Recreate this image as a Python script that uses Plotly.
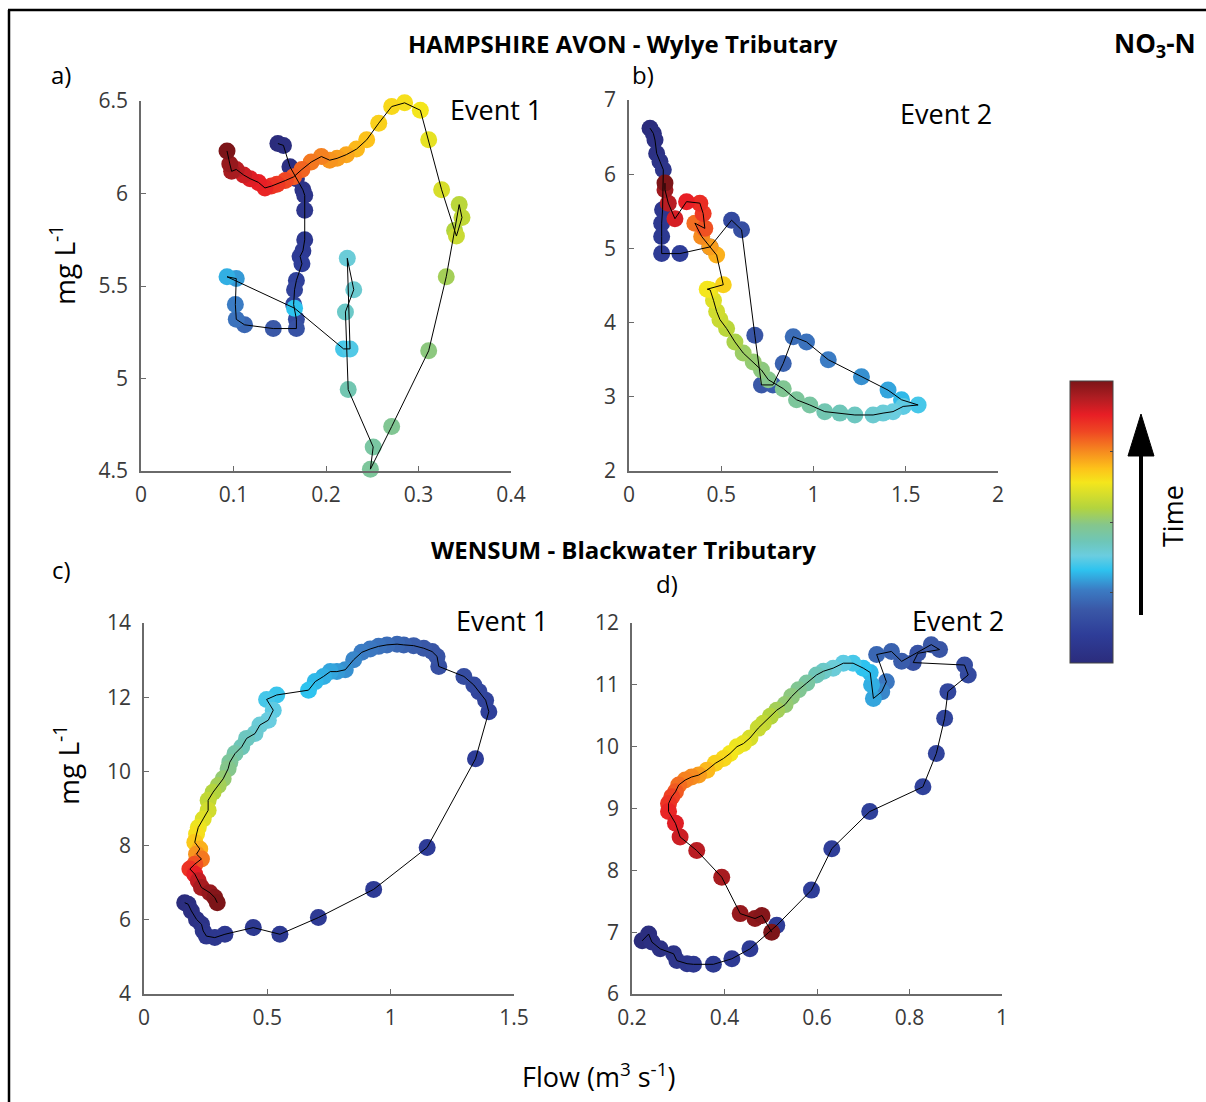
import plotly.graph_objects as go

W, H = 1206, 1102

# ---------------- DATA ----------------
# Panel a: Hampshire Avon (Wylye) Event 1
flow_a = [0.148, 0.154, 0.161, 0.168, 0.175, 0.177, 0.177, 0.177, 0.175, 0.172, 0.174, 0.168, 0.166, 0.165,
          0.168, 0.168, 0.143, 0.112, 0.103, 0.102, 0.103, 0.093, 0.166, 0.219, 0.226, 0.223, 0.230, 0.221,
          0.224, 0.251, 0.248, 0.271, 0.311, 0.330, 0.339, 0.344, 0.347, 0.341, 0.325, 0.311, 0.302, 0.285,
          0.271, 0.257, 0.244, 0.233, 0.222, 0.212, 0.204, 0.195, 0.184, 0.174, 0.165, 0.156, 0.147, 0.141,
          0.134, 0.127, 0.118, 0.111, 0.103, 0.098, 0.096, 0.093]
no3_a = [6.27, 6.26, 6.145, 6.08, 6.02, 5.99, 5.91, 5.75, 5.69, 5.66, 5.62, 5.53, 5.48, 5.40,
         5.32, 5.27, 5.27, 5.29, 5.32, 5.40, 5.54, 5.55, 5.38, 5.16, 5.16, 5.65, 5.48, 5.36,
         4.94, 4.63, 4.51, 4.74, 5.15, 5.55, 5.80, 5.94, 5.87, 5.77, 6.02, 6.29, 6.45, 6.49,
         6.47, 6.38, 6.29, 6.24, 6.21, 6.19, 6.18, 6.20, 6.17, 6.13, 6.09, 6.07, 6.05, 6.04,
         6.03, 6.06, 6.08, 6.10, 6.13, 6.12, 6.16, 6.23]
time_a = [0.00, 0.01, 0.02, 0.03, 0.04, 0.05, 0.06, 0.07, 0.08, 0.09, 0.10, 0.11, 0.12, 0.13,
          0.15, 0.17, 0.19, 0.22, 0.24, 0.26, 0.29, 0.31, 0.33, 0.35, 0.36, 0.39, 0.40, 0.41,
          0.44, 0.46, 0.47, 0.48, 0.50, 0.53, 0.55, 0.56, 0.57, 0.58, 0.60, 0.62, 0.64, 0.65,
          0.66, 0.67, 0.69, 0.70, 0.72, 0.73, 0.74, 0.76, 0.77, 0.79, 0.80, 0.82, 0.84, 0.85,
          0.87, 0.88, 0.89, 0.91, 0.93, 0.95, 0.97, 1.00]

# Panel b: Hampshire Avon (Wylye) Event 2
flow_b = [0.114, 0.132, 0.141, 0.150, 0.168, 0.186, 0.182, 0.177, 0.177, 0.177, 0.276, 0.439, 0.556, 0.610,
          0.682, 0.718, 0.780, 0.836, 0.890, 0.962, 1.080, 1.260, 1.404, 1.477, 1.567, 1.486, 1.431, 1.377,
          1.323, 1.224, 1.143, 1.061, 0.980, 0.908, 0.836, 0.755, 0.718, 0.673, 0.619, 0.574, 0.529, 0.493,
          0.475, 0.458, 0.440, 0.424, 0.511, 0.475, 0.439, 0.394, 0.357, 0.411, 0.402, 0.384, 0.312, 0.249,
          0.213, 0.195, 0.195]
no3_b = [6.62, 6.55, 6.46, 6.28, 6.17, 6.06, 5.52, 5.34, 5.16, 4.93, 4.93, 5.02, 5.38, 5.25,
         3.83, 3.16, 3.16, 3.45, 3.81, 3.74, 3.50, 3.27, 3.09, 2.96, 2.89, 2.87, 2.80, 2.78,
         2.755, 2.755, 2.78, 2.80, 2.89, 2.96, 3.11, 3.23, 3.36, 3.47, 3.59, 3.74, 3.92, 4.04,
         4.15, 4.30, 4.44, 4.45, 4.51, 4.91, 5.02, 5.16, 5.34, 5.27, 5.47, 5.61, 5.63, 5.40,
         5.61, 5.79, 5.88]
time_b = [0.00, 0.01, 0.02, 0.03, 0.04, 0.05, 0.06, 0.07, 0.08, 0.09, 0.10, 0.12, 0.14, 0.16,
          0.18, 0.19, 0.20, 0.21, 0.23, 0.24, 0.26, 0.28, 0.30, 0.32, 0.35, 0.37, 0.38, 0.39,
          0.40, 0.42, 0.43, 0.44, 0.46, 0.47, 0.48, 0.49, 0.50, 0.51, 0.52, 0.54, 0.56, 0.58,
          0.59, 0.61, 0.63, 0.64, 0.67, 0.71, 0.73, 0.75, 0.78, 0.81, 0.84, 0.86, 0.88, 0.90,
          0.93, 0.96, 1.00]

# Panel c: Wensum (Blackwater) Event 1
flow_c = [0.165, 0.179, 0.192, 0.213, 0.233, 0.240, 0.253, 0.287, 0.328, 0.443, 0.551, 0.707, 0.931, 1.148,
          1.344, 1.398, 1.385, 1.358, 1.337, 1.297, 1.195, 1.188, 1.168, 1.134, 1.093, 1.053, 1.026, 0.985,
          0.951, 0.917, 0.883, 0.850, 0.816, 0.782, 0.755, 0.728, 0.694, 0.667, 0.538, 0.497, 0.524, 0.504,
          0.470, 0.450, 0.416, 0.396, 0.369, 0.348, 0.341, 0.321, 0.301, 0.280, 0.260, 0.260, 0.240, 0.220,
          0.213, 0.206, 0.226, 0.213, 0.233, 0.206, 0.186, 0.206, 0.220, 0.233, 0.267, 0.287, 0.297]
no3_c = [6.46, 6.42, 6.24, 6.01, 5.88, 5.70, 5.56, 5.52, 5.61, 5.79, 5.61, 6.06, 6.82, 7.95,
         10.34, 11.61, 11.92, 12.15, 12.33, 12.56, 12.83, 13.10, 13.23, 13.32, 13.39, 13.41, 13.43, 13.41,
         13.37, 13.30, 13.21, 13.01, 12.74, 12.69, 12.69, 12.56, 12.42, 12.19, 12.06, 11.94, 11.65, 11.38,
         11.25, 11.02, 10.89, 10.66, 10.48, 10.25, 10.07, 9.80, 9.62, 9.44, 9.22, 8.95, 8.72, 8.49,
         8.31, 8.09, 7.91, 7.77, 7.64, 7.50, 7.37, 7.23, 7.05, 6.87, 6.73, 6.60, 6.46]
time_c = [0.00, 0.01, 0.02, 0.03, 0.04, 0.05, 0.06, 0.065, 0.07, 0.075, 0.08, 0.085, 0.09, 0.095,
          0.10, 0.11, 0.12, 0.13, 0.14, 0.15, 0.16, 0.17, 0.18, 0.19, 0.20, 0.21, 0.22, 0.23,
          0.24, 0.25, 0.26, 0.27, 0.28, 0.29, 0.30, 0.31, 0.32, 0.33, 0.34, 0.35, 0.37, 0.38,
          0.39, 0.40, 0.42, 0.43, 0.45, 0.47, 0.49, 0.51, 0.53, 0.55, 0.57, 0.59, 0.61, 0.63,
          0.65, 0.68, 0.71, 0.74, 0.77, 0.81, 0.85, 0.88, 0.92, 0.95, 0.97, 0.99, 1.00]

# Panel d: Wensum (Blackwater) Event 2
flow_d = [0.222, 0.236, 0.243, 0.261, 0.290, 0.297, 0.319, 0.333, 0.376, 0.416, 0.455, 0.513, 0.588, 0.632,
          0.714, 0.829, 0.858, 0.876, 0.883, 0.927, 0.919, 0.808, 0.818, 0.865, 0.847, 0.783, 0.761, 0.729,
          0.750, 0.740, 0.722, 0.718, 0.715, 0.700, 0.678, 0.657, 0.635, 0.614, 0.599, 0.578, 0.560, 0.545,
          0.531, 0.513, 0.499, 0.484, 0.473, 0.455, 0.441, 0.427, 0.412, 0.398, 0.380, 0.362, 0.344, 0.329,
          0.315, 0.301, 0.294, 0.286, 0.279, 0.279, 0.294, 0.304, 0.340, 0.394, 0.434, 0.466, 0.481, 0.502]
no3_d = [6.86, 6.97, 6.84, 6.73, 6.65, 6.54, 6.49, 6.48, 6.48, 6.57, 6.73, 7.11, 7.68, 8.35,
         8.95, 9.35, 9.89, 10.46, 10.89, 11.16, 11.32, 11.36, 11.51, 11.57, 11.65, 11.38, 11.54, 11.49,
         11.05, 10.89, 10.78, 11.00, 11.20, 11.27, 11.35, 11.35, 11.27, 11.22, 11.16, 11.03, 10.92, 10.81,
         10.68, 10.59, 10.49, 10.38, 10.30, 10.14, 10.05, 10.00, 9.89, 9.81, 9.73, 9.62, 9.54, 9.51,
         9.46, 9.38, 9.27, 9.19, 9.08, 8.95, 8.76, 8.54, 8.32, 7.89, 7.30, 7.22, 7.27, 7.00]
time_d = [0.00, 0.01, 0.02, 0.03, 0.04, 0.05, 0.06, 0.07, 0.08, 0.085, 0.09, 0.095, 0.10, 0.105,
          0.11, 0.115, 0.12, 0.125, 0.13, 0.14, 0.15, 0.16, 0.17, 0.18, 0.19, 0.20, 0.21, 0.22,
          0.25, 0.27, 0.30, 0.31, 0.32, 0.33, 0.35, 0.37, 0.39, 0.41, 0.43, 0.46, 0.48, 0.50,
          0.51, 0.53, 0.55, 0.57, 0.58, 0.60, 0.62, 0.63, 0.64, 0.66, 0.67, 0.70, 0.73, 0.75,
          0.76, 0.78, 0.80, 0.83, 0.85, 0.87, 0.89, 0.91, 0.93, 0.95, 0.97, 0.98, 0.99, 1.00]

ticks_x = {"a": [0, 0.1, 0.2, 0.3, 0.4], "b": [0, 0.5, 1, 1.5, 2], "c": [0, 0.5, 1, 1.5], "d": [0.2, 0.4, 0.6, 0.8, 1]}
ticks_y = {"a": [4.5, 5, 5.5, 6, 6.5], "b": [2, 3, 4, 5, 6, 7], "c": [4, 6, 8, 10, 12, 14], "d": [6, 7, 8, 9, 10, 11, 12]}
tick_text_x = {"a": ["0", "0.1", "0.2", "0.3", "0.4"], "b": ["0", "0.5", "1", "1.5", "2"],
               "c": ["0", "0.5", "1", "1.5"], "d": ["0.2", "0.4", "0.6", "0.8", "1"]}
tick_text_y = {"a": ["4.5", "5", "5.5", "6", "6.5"], "b": ["2", "3", "4", "5", "6", "7"],
               "c": ["4", "6", "8", "10", "12", "14"], "d": ["6", "7", "8", "9", "10", "11", "12"]}
ranges_x = {"a": [0, 0.4], "b": [0, 2], "c": [0, 1.5], "d": [0.2, 1]}
ranges_y = {"a": [4.5, 6.5], "b": [2, 7], "c": [4, 14], "d": [6, 12]}

# ---------------- STYLE ----------------
CS = [[0.00, "#2B2C7C"], [0.10, "#2E3D98"], [0.19, "#3A58A7"], [0.26, "#3B7CC4"], [0.33, "#2EC3EF"],
      [0.38, "#6ACDE0"], [0.43, "#6EC6B8"], [0.49, "#85C68C"], [0.55, "#B3D43E"], [0.64, "#F4E61C"],
      [0.69, "#FDC21A"], [0.75, "#F68B1F"], [0.82, "#EF4723"], [0.88, "#E81E25"], [0.94, "#B01D22"],
      [1.00, "#7C1518"]]

FONT = "Open Sans, Noto Sans, DejaVu Sans, sans-serif"
AXCOL = "#6a6a6a"


def px(x):
    return x / W


def py(y):
    return 1 - y / H


domains = {
    "a": ([141, 511], [101, 471]),
    "b": ([629, 998], [100, 471]),
    "c": ([144, 514], [623, 994]),
    "d": ([632, 1002], [623, 994]),
}
data = {
    "a": (flow_a, no3_a, time_a),
    "b": (flow_b, no3_b, time_b),
    "c": (flow_c, no3_c, time_c),
    "d": (flow_d, no3_d, time_d),
}

fig = go.Figure()
layout = {}
for i, k in enumerate(["a", "b", "c", "d"]):
    n = "" if i == 0 else str(i + 1)
    xs, ys, ts = data[k]
    (x0, x1), (y0, y1) = domains[k]
    fig.add_trace(go.Scatter(
        x=xs, y=ys, mode="markers", xaxis="x" + n, yaxis="y" + n, cliponaxis=False,
        marker=dict(size=17, color=ts, colorscale=CS, cmin=0, cmax=1, line=dict(width=0),
                    showscale=(i == 0),
                    colorbar=dict(thickness=43, thicknessmode="pixels", len=282, lenmode="pixels",
                                  x=px(1070), xanchor="left", y=py(522), yanchor="middle",
                                  xpad=0, ypad=0, outlinewidth=1, outlinecolor="#444",
                                  tickvals=[0.25, 0.5, 0.75], ticks="inside", ticklen=3,
                                  tickcolor="#444", showticklabels=False)),
        showlegend=False, hoverinfo="skip"))
    fig.add_trace(go.Scatter(
        x=xs, y=ys, mode="lines", xaxis="x" + n, yaxis="y" + n, cliponaxis=False,
        line=dict(color="black", width=1), showlegend=False, hoverinfo="skip"))
    layout["xaxis" + n] = dict(
        domain=[px(x0), px(x1)], range=ranges_x[k], anchor="y" + n, automargin=False,
        tickmode="array", tickvals=ticks_x[k], ticktext=tick_text_x[k],
        ticks="inside", ticklen=5, tickcolor=AXCOL, showline=True, linecolor=AXCOL, linewidth=1.5,
        showgrid=False, zeroline=False, tickfont=dict(family=FONT, size=21, color="#3a3a3a"),
        ticklabelstandoff=4)
    layout["yaxis" + n] = dict(
        domain=[py(y1), py(y0)], range=ranges_y[k], anchor="x" + n, automargin=False,
        tickmode="array", tickvals=ticks_y[k], ticktext=tick_text_y[k],
        ticks="inside", ticklen=5, tickcolor=AXCOL, showline=True, linecolor=AXCOL, linewidth=1.5,
        showgrid=False, zeroline=False, tickfont=dict(family=FONT, size=21, color="#3a3a3a"),
        ticklabelstandoff=7)

annotations = []


def txt(s, x, y, size, bold=False, angle=0, xanchor="center"):
    annotations.append(dict(text=("<b>%s</b>" % s) if bold else s, x=px(x), y=py(y), xref="paper",
                            yref="paper", showarrow=False, xanchor=xanchor, yanchor="middle",
                            textangle=angle, font=dict(family=FONT, size=size, color="black")))


txt("HAMPSHIRE AVON - Wylye Tributary", 623, 44, 24, bold=True)
txt("WENSUM - Blackwater Tributary", 623, 549, 24, bold=True)
txt("NO<sub>3</sub>-N", 1155, 44, 26, bold=True)
txt("a)", 61, 74, 24)
txt("b)", 643, 74, 24)
txt("c)", 61, 569, 24)
txt("d)", 667, 583, 24)
txt("Event 1", 496, 110, 27)
txt("Event 2", 946, 114, 27)
txt("Event 1", 502, 620, 27)
txt("Event 2", 958, 620, 27)
txt("mg L<sup>-1</sup>", 62, 265, 28, angle=-90)
txt("mg L<sup>-1</sup>", 66, 765, 28, angle=-90)
txt("Flow (m<sup>3</sup> s<sup>-1</sup>)", 598, 1075, 27)
txt("Time", 1172, 516, 27, angle=-90)

shapes = [
    dict(type="line", xref="paper", yref="paper", x0=px(8), x1=px(1206), y0=py(10), y1=py(10),
         line=dict(color="black", width=2.5)),
    dict(type="line", xref="paper", yref="paper", x0=px(9), x1=px(9), y0=py(10), y1=py(1102),
         line=dict(color="black", width=2.5)),
    dict(type="line", xref="paper", yref="paper", x0=px(1141), x1=px(1141), y0=py(452), y1=py(615),
         line=dict(color="black", width=4)),
    dict(type="path", xref="paper", yref="paper",
         path="M %f,%f L %f,%f L %f,%f Z" % (px(1141), py(414), px(1128), py(456), px(1154), py(456)),
         fillcolor="black", line=dict(color="black", width=1)),
]

fig.update_layout(width=W, height=H, margin=dict(l=0, r=0, t=0, b=0, pad=0, autoexpand=False),
                  paper_bgcolor="white", plot_bgcolor="white",
                  annotations=annotations, shapes=shapes, **layout)

fig.write_html("out.html", config={"displayModeBar": False},
               post_script="document.body.style.margin='0';")
